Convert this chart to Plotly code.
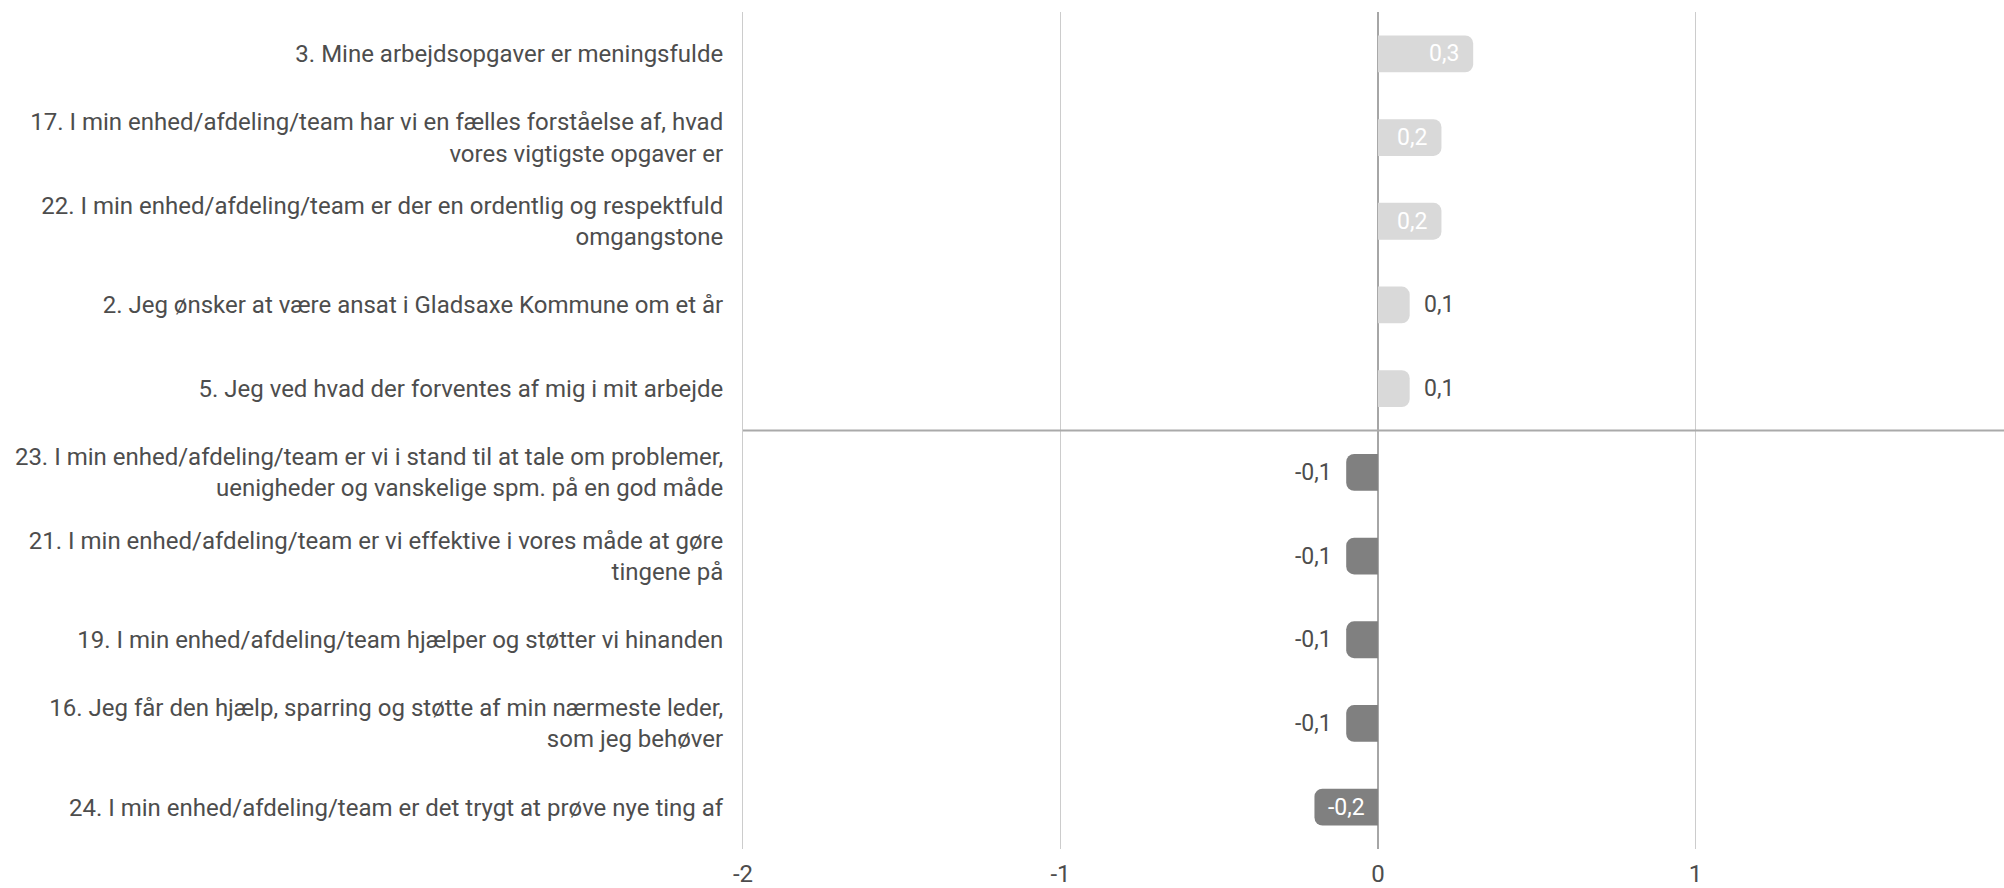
import plotly.graph_objects as go

categories = [
    "3. Mine arbejdsopgaver er meningsfulde",
    "17. I min enhed/afdeling/team har vi en fælles forståelse af, hvad<br>vores vigtigste opgaver er",
    "22. I min enhed/afdeling/team er der en ordentlig og respektfuld<br>omgangstone",
    "2. Jeg ønsker at være ansat i Gladsaxe Kommune om et år",
    "5. Jeg ved hvad der forventes af mig i mit arbejde",
    "23. I min enhed/afdeling/team er vi i stand til at tale om problemer,<br>uenigheder og vanskelige spm. på en god måde",
    "21. I min enhed/afdeling/team er vi effektive i vores måde at gøre<br>tingene på",
    "19. I min enhed/afdeling/team hjælper og støtter vi hinanden",
    "16. Jeg får den hjælp, sparring og støtte af min nærmeste leder,<br>som jeg behøver",
    "24. I min enhed/afdeling/team er det trygt at prøve nye ting af",
]
values = [0.3, 0.2, 0.2, 0.1, 0.1, -0.1, -0.1, -0.1, -0.1, -0.2]
x_ticks = [-2, -1, 0, 1, 2]

POS_COLOR = "#d9d9d9"
NEG_COLOR = "#808080"
TEXT_COLOR = "#4d4d4d"
FONT = "Roboto"

def fmt(v):
    return f"{v:.1f}".replace(".", ",")

colors = [POS_COLOR if v >= 0 else NEG_COLOR for v in values]

fig = go.Figure()
fig.add_trace(go.Bar(
    x=values,
    y=categories,
    orientation="h",
    marker=dict(color=colors, cornerradius=8, line=dict(width=0)),
    width=0.44,
    hoverinfo="skip",
))

annotations = []
for cat, v in zip(categories, values):
    inside = abs(v) >= 0.15
    if v >= 0:
        xanchor = "right" if inside else "left"
        shift = -12 if inside else 12
    else:
        xanchor = "left" if inside else "right"
        shift = 12 if inside else -12
    annotations.append(dict(
        x=v, y=cat, xref="x", yref="y",
        text=fmt(v), showarrow=False,
        xanchor=xanchor, xshift=shift, yanchor="middle",
        font=dict(family=FONT, size=23, color="white" if inside else TEXT_COLOR),
    ))

fig.update_layout(
    width=2004, height=888,
    margin=dict(l=743, r=0, t=12, b=33),
    paper_bgcolor="white", plot_bgcolor="white",
    showlegend=False,
    font=dict(family=FONT, size=24, color=TEXT_COLOR),
    annotations=annotations,
    shapes=[dict(
        type="line", xref="paper", x0=0, x1=1, yref="y", y0=4.5, y1=4.5,
        line=dict(color="#aaaaaa", width=2),
    )],
)
fig.update_xaxes(
    range=[-2, 1.972],
    tickvals=x_ticks,
    ticktext=[str(t) for t in x_ticks],
    showgrid=True, gridcolor="#cccccc", gridwidth=1,
    zeroline=True, zerolinecolor="#a6a6a6", zerolinewidth=2,
    showline=False,
    ticks="", ticklabelstandoff=8,
    tickfont=dict(family=FONT, size=24, color=TEXT_COLOR),
    fixedrange=True,
)
fig.update_yaxes(
    categoryorder="array", categoryarray=categories,
    autorange="reversed",
    showgrid=False, zeroline=False,
    showline=True, linecolor="#cccccc", linewidth=1,
    ticks="", ticklabelstandoff=14,
    tickfont=dict(family=FONT, size=24, color=TEXT_COLOR),
    fixedrange=True,
)

fig.write_html(
    "out.html",
    config={"displayModeBar": False},
    post_script=(
        "document.body.style.margin='0';"
        "document.documentElement.style.overflow='hidden';"
        "document.body.style.overflow='hidden';"
    ),
)
